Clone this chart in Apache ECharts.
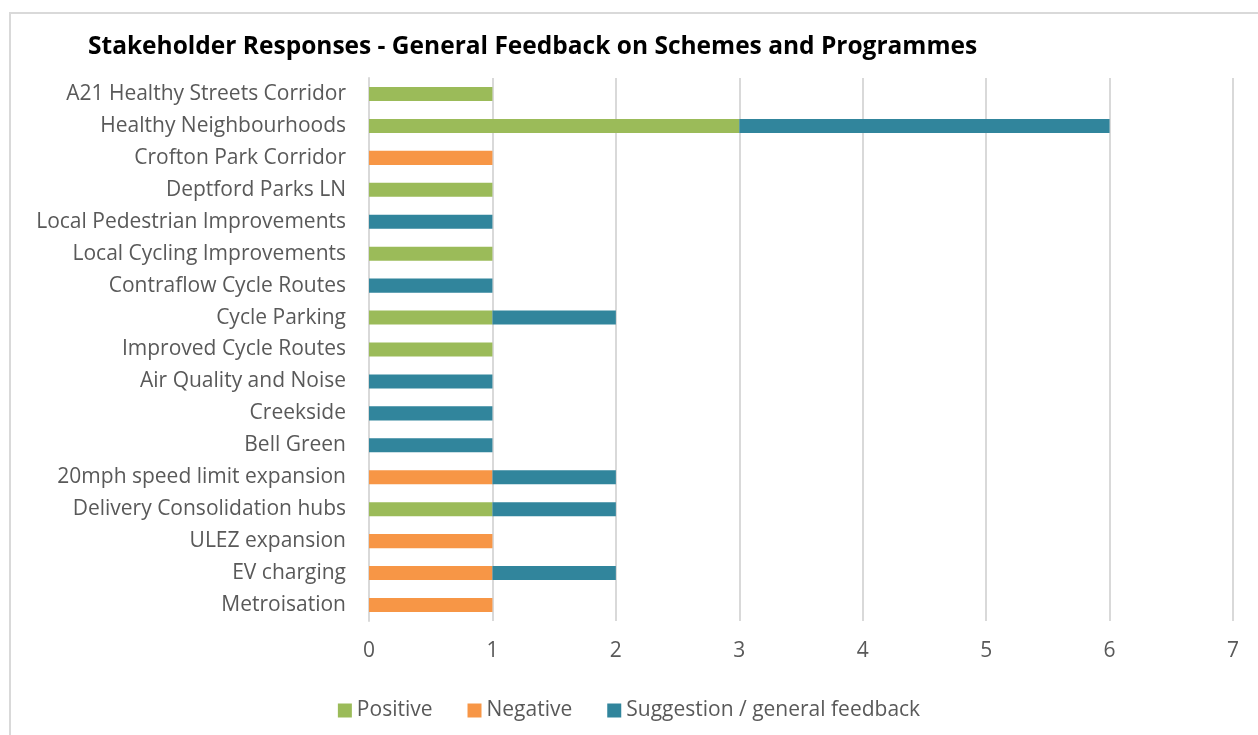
<!DOCTYPE html>
<html>
<head>
<meta charset="utf-8">
<script src="https://cdn.jsdelivr.net/npm/echarts@6/dist/echarts.min.js"></script>
<style>
  html, body { margin: 0; padding: 0; background: #fff; }
  #chart { width: 1258px; height: 735px; }
</style>
</head>
<body>
<div id="chart"></div>
<script>
// categories, top to bottom
const categories = [
  'A21 Healthy Streets Corridor',
  'Healthy Neighbourhoods',
  'Crofton Park Corridor',
  'Deptford Parks LN',
  'Local Pedestrian Improvements',
  'Local Cycling Improvements',
  'Contraflow Cycle Routes',
  'Cycle Parking',
  'Improved Cycle Routes',
  'Air Quality and Noise',
  'Creekside',
  'Bell Green',
  '20mph speed limit expansion',
  'Delivery Consolidation hubs',
  'ULEZ expansion',
  'EV charging',
  'Metroisation'
];

const positive   = [1, 3, 0, 1, 0, 1, 0, 1, 1, 0, 0, 0, 0, 1, 0, 0, 0];
const negative   = [0, 0, 1, 0, 0, 0, 0, 0, 0, 0, 0, 0, 1, 0, 1, 1, 1];
const suggestion = [0, 3, 0, 0, 1, 0, 1, 1, 0, 1, 1, 1, 1, 1, 0, 1, 0];

const seriesNames = ['Positive', 'Negative', 'Suggestion / general feedback'];
const colors = ['#9BBB59', '#F79646', '#31859C'];

const font = '"Open Sans", sans-serif';
const chart = echarts.init(document.getElementById('chart'));

const toData = (arr) => arr.map((v) => (v === 0 ? '-' : v));

chart.setOption({
  animation: false,
  textStyle: { fontFamily: font },
  title: {
    text: 'Stakeholder Responses - General Feedback on Schemes and Programmes',
    left: 83,
    top: 30,
    textStyle: { fontSize: 24.5, fontWeight: 'bold', color: '#000', fontFamily: font }
  },
  graphic: [{
    type: 'rect',
    shape: { x: 10, y: 13, width: 1300, height: 800 },
    style: { fill: 'none', stroke: '#d9d9d9', lineWidth: 2 },
    silent: true
  }],
  legend: {
    bottom: 9,
    left: 'center',
    itemWidth: 14,
    itemHeight: 14,
    itemGap: 35,
    icon: 'rect',
    textStyle: { fontSize: 21, color: '#595959', fontFamily: font },
    data: seriesNames
  },
  grid: { left: 369, right: 25, top: 78, bottom: 114, containLabel: false },
  xAxis: {
    type: 'value',
    min: 0,
    max: 7,
    interval: 1,
    axisLine: { show: false },
    axisTick: { show: false },
    axisLabel: { fontSize: 21, color: '#595959', margin: 20 },
    splitLine: { lineStyle: { color: '#d9d9d9', width: 2 } }
  },
  yAxis: {
    type: 'category',
    inverse: true,
    data: categories,
    axisLine: { show: true, lineStyle: { color: '#d9d9d9', width: 2 } },
    axisTick: { show: false },
    axisLabel: { fontSize: 21, color: '#595959', margin: 23, padding: [8, 0, 0, 0] }
  },
  series: [positive, negative, suggestion].map((arr, i) => ({
    name: seriesNames[i],
    type: 'bar',
    stack: 'total',
    barWidth: '44%',
    itemStyle: { color: colors[i] },
    data: toData(arr)
  }))
});
</script>
</body>
</html>
